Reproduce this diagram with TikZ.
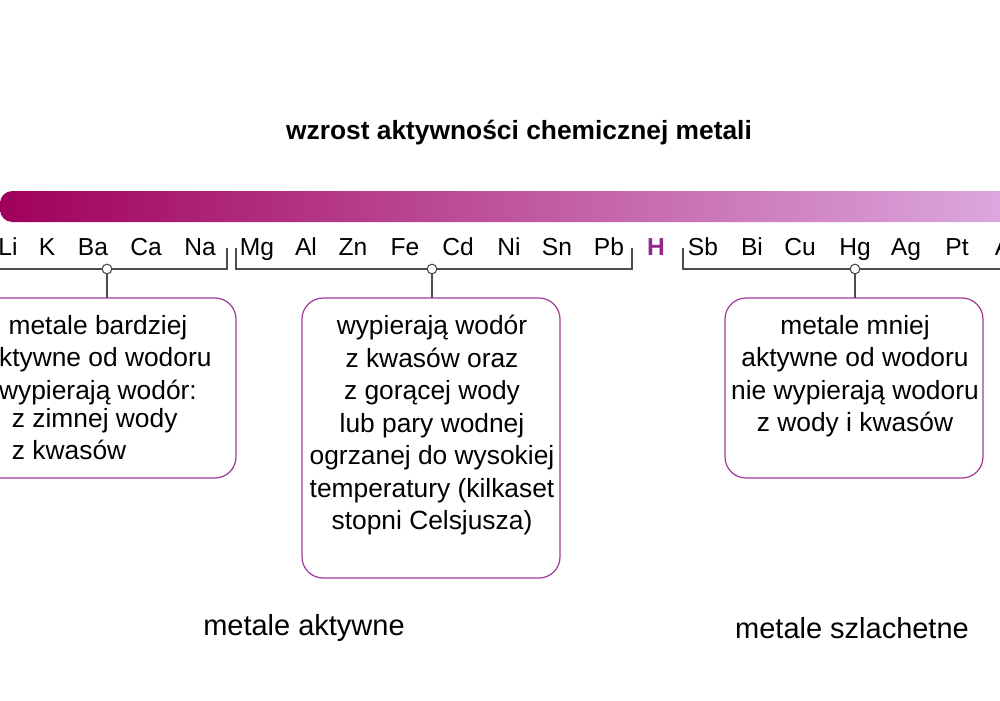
\documentclass[tikz,border=0pt]{standalone}
\usepackage{fontspec}
\setmainfont{Liberation Sans}
\definecolor{barstart}{RGB}{160,0,90}
\definecolor{barend}{RGB}{222,172,226}
\definecolor{boxline}{RGB}{160,60,150}
\definecolor{hcolor}{RGB}{150,40,140}
\begin{document}
\begin{tikzpicture}[x=0.02cm, y=-0.02cm,
    elem/.style={font=\fontsize{14}{16}\selectfont, anchor=base},
    brace/.style={draw=black!70, line width=0.7pt},
    info/.style={draw=boxline, line width=0.7pt, rounded corners=12pt},
    infotext/.style={font=\fontsize{15}{18.5}\selectfont, align=center},
    knot/.style={circle, draw=black!70, fill=white, line width=0.6pt, inner sep=0pt, minimum size=5.5pt}]
    \useasboundingbox (0,0) rectangle (1000,700);
    \clip (0,0) rectangle (1000,700);
    % Title and gradient bar
    \node[font=\bfseries\fontsize{15}{17}\selectfont] (title) at (519,133) {wzrost aktywności chemicznej metali};
    \shade[left color=barstart, right color=barend, rounded corners=7pt] (0,191) rectangle (1030,222);
    % Elements
    \foreach \x/\e [count=\i] in {8/Li, 47/K, 93/Ba, 146/Ca, 200/Na, 257/Mg, 306/Al, 353/Zn,
        405/Fe, 458/Cd, 509/Ni, 557/Sn, 609/Pb, 703/Sb, 752/Bi, 800/Cu, 855/Hg,
        906/Ag, 957/Pt, 1010/Au}
        \node[elem] (e\i) at (\x,255) {\e};
    \node[elem, font=\bfseries\fontsize{14}{16}\selectfont, text=hcolor] (H) at (656,255) {H};
    % Brackets
    \draw[brace] (-20,269) -- (227,269) -- (227,248);
    \draw[brace] (236,248) -- (236,269) -- (632,269) -- (632,248);
    \draw[brace] (683,248) -- (683,269) -- (1020,269);
    % Boxes
    \draw[info] (-30,298) rectangle (236,478);
    \draw[info] (302,298) rectangle (560,578);
    \draw[info] (725,298) rectangle (983,478);
    \node[infotext, anchor=north] (leftText) at (98,309) {metale bardziej\\aktywne od wodoru\\wypierają wodór:\\};
    \node[font=\fontsize{15}{18.5}\selectfont, anchor=north west, align=left] (leftList) at (-3,402) {\hspace{5pt}z zimnej wody\\\hspace{5pt}z kwasów};
    \node[infotext, anchor=north] (midText) at (432,309) {wypierają wodór\\z kwasów oraz\\z gorącej wody\\lub pary wodnej\\ogrzanej do wysokiej\\temperatury (kilkaset\\stopni Celsjusza)};
    \node[infotext, anchor=north] (rightText) at (855,309) {metale mniej\\aktywne od wodoru\\nie wypierają wodoru\\z wody i kwasów};
    % Connectors
    \node[knot] (k1) at (107,269) {};
    \node[knot] (k2) at (432,269) {};
    \node[knot] (k3) at (855,269) {};
    \coordinate (b1) at (107,298);
    \coordinate (b2) at (432,298);
    \coordinate (b3) at (855,298);
    \draw[brace] (k1) -- (b1);
    \draw[brace] (k2) -- (b2);
    \draw[brace] (k3) -- (b3);
    % Group labels
    \node[font=\fontsize{16.5}{19}\selectfont] (active) at (304,628) {metale aktywne};
    \node[font=\fontsize{16.5}{19}\selectfont] (noble) at (852,628) {metale szlachetne};
\end{tikzpicture}
\end{document}
